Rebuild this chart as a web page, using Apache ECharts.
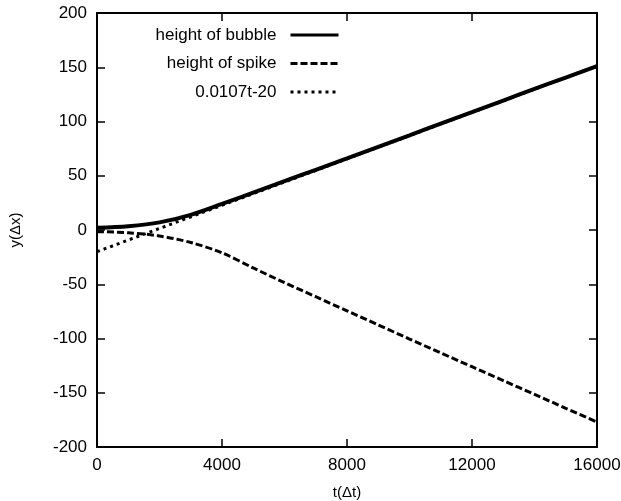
<!DOCTYPE html>
<html>
<head>
<meta charset="utf-8">
<script src="https://cdn.jsdelivr.net/npm/echarts@6/dist/echarts.min.js"></script>
<style>
  html, body { margin: 0; padding: 0; background: #fff; }
  #chart { width: 621px; height: 501px; }
</style>
</head>
<body>
<div id="chart"></div>
<script>
// time steps t(Δt)
const tSteps = [0, 1000, 2000, 3000, 4000, 5000, 6000, 7000, 8000, 9000, 10000, 11000, 12000, 13000, 14000, 15000, 16000]
const heightBubble = [2, 3.5, 7, 14, 24, 34.5, 45, 55.5, 66, 76.7, 87.3, 98, 108.6, 119.3, 130, 140.5, 151]
const heightSpike = [-1.5, -2.5, -5.5, -11.5, -21, -35, -48.5, -61.5, -74.5, -87.5, -100.5, -113.3, -126, -138.8, -151.5, -164.3, -177]

const tFit = [0, 16000]
const fitLine = [-20, 151.2]

const xTicks = [0, 4000, 8000, 12000, 16000]
const yTicks = [-200, -150, -100, -50, 0, 50, 100, 150, 200]

const pairs = (xs, ys) => xs.map((x, i) => [x, ys[i]])

const chart = echarts.init(document.getElementById('chart'))
const font = 'Liberation Sans, Arial, Helvetica, sans-serif'

const axisCommon = {
  axisLine: { show: true, onZero: false, lineStyle: { color: '#000', width: 2 } },
  axisTick: { show: true, inside: true, length: 8, lineStyle: { color: '#000', width: 1.5 } },
  splitLine: { show: false }
}

chart.setOption({
  animation: false,
  backgroundColor: '#fff',
  grid: { left: 97, right: 24, top: 13, bottom: 54, outerBoundsMode: 'none', containLabel: false },
  legend: {
    orient: 'vertical',
    right: 276,
    top: 20,
    align: 'right',
    itemWidth: 48,
    itemHeight: 14,
    itemGap: 8.5,
    itemStyle: { color: 'transparent', borderWidth: 0 },
    lineStyle: { width: 3 },
    textStyle: { fontFamily: font, fontSize: 17, color: '#000', lineHeight: 20, padding: [0, 9, 0, 0] },
    data: ['height of bubble', 'height of spike', '0.0107t-20']
  },
  xAxis: [{
    type: 'value',
    min: xTicks[0],
    max: xTicks[xTicks.length - 1],
    interval: 4000,
    name: 't(\u0394t)',
    nameLocation: 'middle',
    nameGap: 38,
    nameTextStyle: { fontFamily: font, fontSize: 15, color: '#000' },
    axisLabel: { fontFamily: font, fontSize: 17, color: '#000', margin: 10, formatter: v => String(v) },
    ...axisCommon
  }, {
    type: 'value',
    position: 'top',
    min: xTicks[0],
    max: xTicks[xTicks.length - 1],
    interval: 4000,
    axisLabel: { show: false },
    ...axisCommon
  }],
  yAxis: [{
    type: 'value',
    min: yTicks[0],
    max: yTicks[yTicks.length - 1],
    interval: 50,
    name: 'y(\u0394x)',
    nameLocation: 'middle',
    nameGap: 74,
    nameTextStyle: { fontFamily: font, fontSize: 15, color: '#000' },
    axisLabel: { fontFamily: font, fontSize: 17, color: '#000', margin: 10 },
    ...axisCommon
  }, {
    type: 'value',
    position: 'right',
    min: yTicks[0],
    max: yTicks[yTicks.length - 1],
    interval: 50,
    axisLabel: { show: false },
    ...axisCommon
  }],
  series: [{
    name: '0.0107t-20',
    type: 'line',
    symbol: 'none',
    data: pairs(tFit, fitLine),
    lineStyle: { color: '#000', width: 3, type: [3, 4] },
    itemStyle: { color: '#000' },
    z: 1
  }, {
    name: 'height of spike',
    type: 'line',
    symbol: 'none',
    smooth: 0.3,
    data: pairs(tSteps, heightSpike),
    lineStyle: { color: '#000', width: 3, type: [7, 3] },
    itemStyle: { color: '#000' },
    z: 2
  }, {
    name: 'height of bubble',
    type: 'line',
    symbol: 'none',
    smooth: 0.3,
    data: pairs(tSteps, heightBubble),
    lineStyle: { color: '#000', width: 4 },
    itemStyle: { color: '#000' },
    z: 3
  }]
})
</script>
</body>
</html>
